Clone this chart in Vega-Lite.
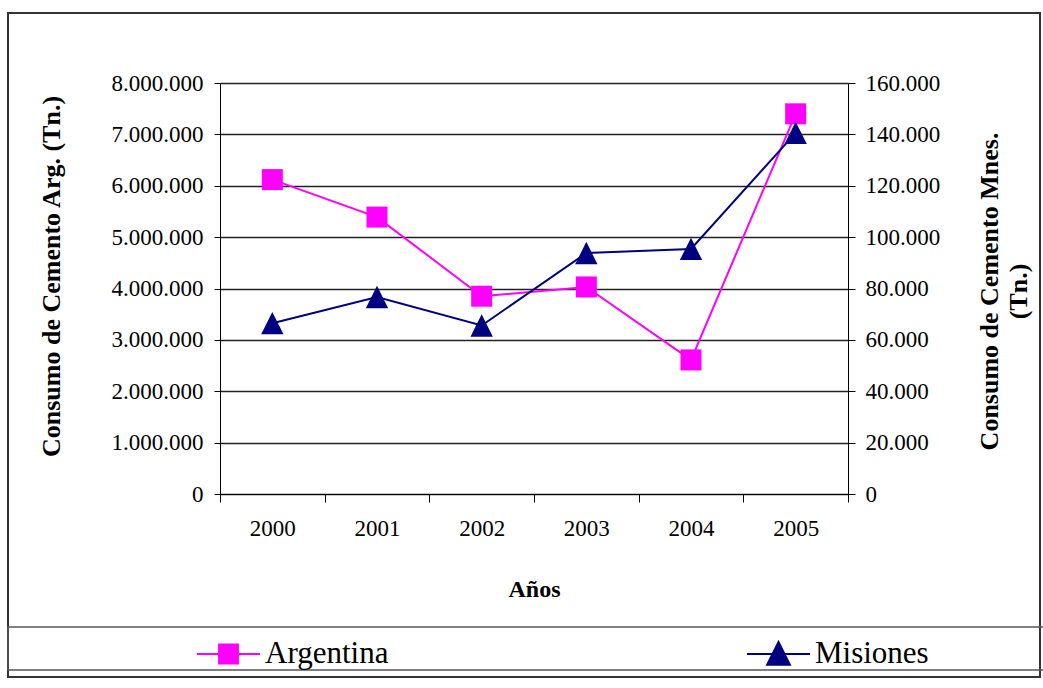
{
  "$schema": "https://vega.github.io/schema/vega-lite/v6.json",
  "autosize": "none",
  "width": 1032,
  "height": 664,
  "padding": {"left": 8, "top": 13, "right": 3, "bottom": 11},
  "background": "white",
  "config": {
    "locale": {"number": {"decimal": ",", "thousands": ".", "grouping": [3], "currency": ["$", ""]}},
    "view": {"stroke": "#333333", "strokeWidth": 2},
    "font": "Liberation Serif",
    "axis": {
      "labelFont": "Liberation Serif",
      "titleFont": "Liberation Serif",
      "labelColor": "black",
      "titleColor": "black",
      "domainColor": "black",
      "tickColor": "black",
      "labelFontSize": 23,
      "titleFontSize": 26,
      "titleFontWeight": "bold"
    }
  },
  "data": {
    "values": [
      {"anio": "2000", "serie": "Argentina", "valor": 6120000},
      {"anio": "2001", "serie": "Argentina", "valor": 5390000},
      {"anio": "2002", "serie": "Argentina", "valor": 3850000},
      {"anio": "2003", "serie": "Argentina", "valor": 4030000},
      {"anio": "2004", "serie": "Argentina", "valor": 2610000},
      {"anio": "2005", "serie": "Argentina", "valor": 7400000},
      {"anio": "2000", "serie": "Misiones", "valor": 66500},
      {"anio": "2001", "serie": "Misiones", "valor": 76700},
      {"anio": "2002", "serie": "Misiones", "valor": 65600},
      {"anio": "2003", "serie": "Misiones", "valor": 93800},
      {"anio": "2004", "serie": "Misiones", "valor": 95400},
      {"anio": "2005", "serie": "Misiones", "valor": 140600}
    ]
  },
  "encoding": {
    "x": {
      "field": "anio",
      "type": "nominal",
      "sort": null,
      "scale": {"type": "band", "range": [212, 840], "paddingInner": 0, "paddingOuter": 0},
      "axis": {
        "title": "Años",
        "offset": -183,
        "labelAngle": 0,
        "tickBand": "extent",
        "tickSize": 8,
        "labelPadding": 15,
        "titlePadding": 37,
        "titleFontSize": 24,
        "grid": false
      }
    },
    "color": {
      "field": "serie",
      "type": "nominal",
      "scale": {"domain": ["Argentina", "Misiones"], "range": ["#FF00FF", "#000080"]},
      "legend": {
        "title": "\u00a0",
        "titleOrient": "right",
        "titleFontSize": 1,
        "titlePadding": 116,
        "orient": "none",
        "direction": "horizontal",
        "legendX": 0,
        "legendY": 614,
        "padding": 1,
        "strokeColor": "#555555",
        "columnPadding": 170,
        "symbolSize": 3969,
        "symbolStrokeWidth": 2,
        "symbolOffset": 187,
        "labelOffset": 4,
        "labelFont": "Liberation Serif",
        "labelFontSize": 31,
        "labelColor": "black",
        "labelLimit": 300,
        "encode": {
          "legend": {"update": {"strokeWidth": {"value": 1.5}}},
          "symbols": {"update": {
            "shape": {"signal": "datum.value === 'Argentina' ? 'M-1,0H1M-0.3,-0.3H0.3V0.3H-0.3Z' : 'M-1,0H1M0,-0.38L0.36,0.34H-0.36Z'"},
            "fill": {"scale": "color", "field": "value"},
            "stroke": {"scale": "color", "field": "value"},
            "strokeWidth": {"value": 2},
            "size": {"value": 3969},
            "opacity": {"value": 1},
            "y": {"value": 26}
          }},
          "labels": {"update": {"y": {"value": 26}}}
        }
      }
    }
  },
  "layer": [
    {
      "transform": [{"filter": "datum.serie === 'Argentina'"}],
      "encoding": {
        "y": {
          "field": "valor",
          "type": "quantitative",
          "scale": {"domain": [0, 8000000], "range": [481, 70], "nice": false, "zero": true},
          "axis": {
            "orient": "left",
            "offset": -212,
            "title": "Consumo de Cemento Arg. (Tn.)",
            "titleAngle": 270,
            "titlePadding": 47,
            "titleY": 263,
            "values": [0, 1000000, 2000000, 3000000, 4000000, 5000000, 6000000, 7000000, 8000000],
            "format": ",d",
            "tickSize": 6,
            "labelPadding": 11,
            "grid": true,
            "gridColor": "#222222",
            "gridWidth": 1.3
          }
        }
      },
      "layer": [
        {"mark": {"type": "line", "strokeWidth": 2}},
        {"mark": {"type": "point", "shape": "square", "filled": true, "size": 441, "opacity": 1}}
      ]
    },
    {
      "transform": [{"filter": "datum.serie === 'Misiones'"}],
      "encoding": {
        "y": {
          "field": "valor",
          "type": "quantitative",
          "scale": {"domain": [0, 160000], "range": [481, 70], "nice": false, "zero": true},
          "axis": {
            "orient": "right",
            "offset": -192,
            "title": ["Consumo de Cemento Mnes.", "(Tn.)"],
            "titleAngle": 270,
            "titleBaseline": "top",
            "titleLineHeight": 29,
            "titlePadding": 8,
            "titleY": 278,
            "values": [0, 20000, 40000, 60000, 80000, 100000, 120000, 140000, 160000],
            "format": ",d",
            "tickSize": 7,
            "labelPadding": 10,
            "grid": false
          }
        }
      },
      "layer": [
        {"mark": {"type": "line", "strokeWidth": 2}},
        {"mark": {"type": "point", "shape": "M0,-1L1,1H-1Z", "filled": true, "size": 500, "opacity": 1}}
      ]
    }
  ],
  "resolve": {"scale": {"y": "independent"}, "axis": {"y": "independent"}}
}
